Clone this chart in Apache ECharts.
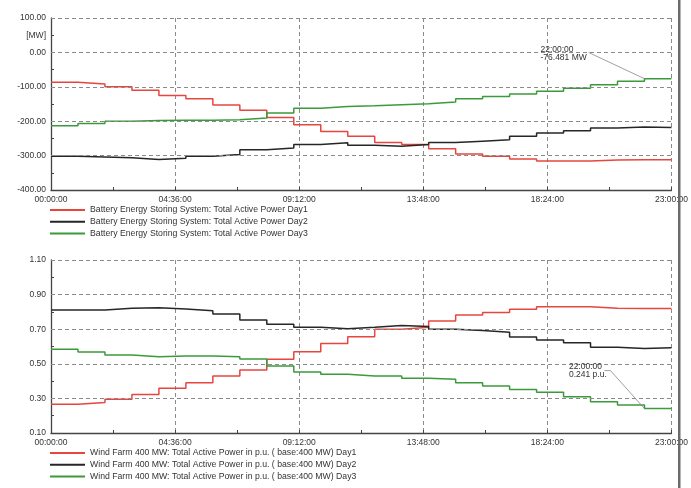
<!DOCTYPE html>
<html><head><meta charset="utf-8">
<script src="https://cdn.jsdelivr.net/npm/echarts@6/dist/echarts.min.js"></script>
<style>html,body{margin:0;padding:0;background:#fff}#c{width:691px;height:488px}</style>
</head><body><div id="c"></div>
<script>
// hours of the day (step values hold from hour h to h+1)
const hours = [0,1,2,3,4,5,6,7,8,9,10,11,12,13,14,15,16,17,18,19,20,21,22,23];

// Battery Energy Storing System: Total Active Power [MW]
const bessDay1 = [-87,-92,-100,-110,-125,-135,-153,-168,-189,-210,-230,-244,-262,-268,-280,-295,-302,-310,-316,-316,-313,-312,-312,-312];
const bessDay2 = [-302,-304,-306,-311,-308,-302,-297,-283,-278,-268,-263,-270,-273,-268,-262,-258,-254,-244,-234,-228,-220,-217,-218,-218];
const bessDay3 = [-213,-207,-200,-198,-197,-197,-196,-191,-176,-162,-157,-155,-152,-149,-144,-135,-128,-121,-113,-104,-94,-84,-76.481,-76.481];

// Wind Farm 400 MW: Total Active Power in p.u.
const windDay1 = [0.266,0.277,0.295,0.323,0.358,0.391,0.430,0.464,0.526,0.570,0.618,0.657,0.700,0.711,0.747,0.782,0.797,0.815,0.830,0.830,0.821,0.820,0.820,0.820];
const windDay2 = [0.811,0.811,0.821,0.824,0.817,0.807,0.788,0.753,0.728,0.711,0.703,0.711,0.722,0.715,0.700,0.692,0.682,0.655,0.638,0.622,0.595,0.589,0.593,0.593];
const windDay3 = [0.584,0.568,0.551,0.541,0.545,0.545,0.541,0.528,0.487,0.453,0.439,0.429,0.429,0.416,0.410,0.391,0.372,0.352,0.335,0.310,0.281,0.262,0.241,0.241];

const topNames = ['Battery Energy Storing System: Total Active Power Day1','Battery Energy Storing System: Total Active Power Day2','Battery Energy Storing System: Total Active Power Day3'];
const botNames = ['Wind Farm 400 MW: Total Active Power in p.u. ( base:400 MW) Day1','Wind Farm 400 MW: Total Active Power in p.u. ( base:400 MW) Day2','Wind Farm 400 MW: Total Active Power in p.u. ( base:400 MW) Day3'];
const topGridValues = [-300,-200,-100,0,100];
const botGridValues = [0.3,0.5,0.7,0.9,1.1];
const annTop = {hour: 22, value: -76.481, text: '22:00:00\n-76.481 MW'};
const annBot = {hour: 22, value: 0.241, text: '22:00:00\n0.241 p.u.'};

const colors = ['#e8453f','#262626','#3b9a3b'];
const FONT = 'Liberation Sans, Arial, sans-serif';

function fmtTime(v){
  const tm = Math.round(v*60);
  const h = Math.floor(tm/60), m = tm%60;
  return String(h).padStart(2,'0')+':'+String(m).padStart(2,'0')+':00';
}
const pair = arr => hours.map((h,i)=>[h, arr[i]]);

const dashed = {color:'#8a8a8a', width:1, type:[4,3]};
function xAxis(gi){
  return {
    type:'value', gridIndex:gi, min:0, max:23, interval:4.6,
    axisLine:{show:true, onZero:false, lineStyle:{color:'#444', width:1.3}},
    axisTick:{show:true, inside:true, length:3, lineStyle:{color:'#444'}},
    minorTick:{show:true, splitNumber:2, length:3, lineStyle:{color:'#444'}},
    splitLine:{show:true, lineStyle:dashed},
    axisLabel:{formatter:fmtTime, fontSize:8.5, color:'#333', margin:5, fontFamily:FONT, showMaxLabel:true, showMinLabel:true}
  };
}
function seriesFor(names, arrays, xi, gridVals){
  return names.map((n,i)=>({
    name:n, type:'line', xAxisIndex:xi, yAxisIndex:xi, step:'end', data:pair(arrays[i]),
    showSymbol:false, symbol:'none', color:colors[i], lineStyle:{width:1.5, color:colors[i]},
    animation:false,
    markLine: i===0 ? {silent:true, symbol:['none','none'], label:{show:false}, lineStyle:dashed,
      data: gridVals.map(v=>({yAxis:v}))} : undefined
  }));
}
function legendFor(names, top){
  return {data:names, orient:'vertical', left:50, top:top, padding:0, height:60,
    itemWidth:35, itemHeight:2, itemGap:1.8, icon:'rect', selectedMode:false,
    textStyle:{fontSize:8.7, color:'#333', lineHeight:10, fontFamily:FONT}};
}

const chart = echarts.init(document.getElementById('c'), null, {renderer:'canvas'});
chart.setOption({
  backgroundColor:'#fff',
  animation:false,
  grid:[
    {left:51, right:18, top:18, height:172},
    {left:51, right:18, top:260, height:173}
  ],
  xAxis:[xAxis(0), xAxis(1)],
  yAxis:[
    {type:'value', gridIndex:0, min:-400, max:100, interval:50,
     axisLine:{show:true, lineStyle:{color:'#444', width:1.3}},
     axisTick:{show:true, inside:true, length:3, lineStyle:{color:'#444'}},
     splitLine:{show:false},
     axisLabel:{fontSize:8.5, color:'#333', margin:5, fontFamily:FONT,
       formatter:v=>{ if(Math.abs(v-50)<1e-6) return '[MW]'; return (Math.round(v)%100===0)? v.toFixed(2):''; }}},
    {type:'value', gridIndex:1, min:0.1, max:1.1, interval:0.1,
     axisLine:{show:true, lineStyle:{color:'#444', width:1.3}},
     axisTick:{show:true, inside:true, length:3, lineStyle:{color:'#444'}},
     splitLine:{show:false},
     axisLabel:{fontSize:8.5, color:'#333', margin:5, fontFamily:FONT,
       formatter:v=>(Math.round(v*10)%2===1)? v.toFixed(2):''}}
  ],
  legend:[legendFor(topNames, 205), legendFor(botNames, 448)],
  series:[
    ...seriesFor(topNames,[bessDay1,bessDay2,bessDay3],0,topGridValues),
    ...seriesFor(botNames,[windDay1,windDay2,windDay3],1,botGridValues)
  ]
});

const p1 = chart.convertToPixel({gridIndex:0}, [annTop.hour, annTop.value]);
const p2 = chart.convertToPixel({gridIndex:1}, [annBot.hour, annBot.value]);
const annStyle = {fill:'#333', fontSize:8.5, lineHeight:8, fontFamily:FONT};
chart.setOption({graphic:[
  {type:'text', left:p1[0]-104, top:p1[1]-34, style:Object.assign({text:annTop.text}, annStyle), z:100},
  {type:'polyline', shape:{points:[[p1[0]-56,p1[1]-26.3],[p1[0],p1[1]]]}, style:{stroke:'#888', lineWidth:0.8, fill:null}, z:100},
  {type:'text', left:p2[0]-75.5, top:p2[1]-46, style:Object.assign({text:annBot.text}, annStyle), z:100},
  {type:'polyline', shape:{points:[[p2[0]-40,p2[1]-38],[p2[0]-34,p2[1]-38],[p2[0],p2[1]]]}, style:{stroke:'#888', lineWidth:0.8, fill:null}, z:100},
  {type:'rect', left:678, top:0, shape:{width:2.5, height:488}, style:{fill:'#6b6b6b'}, z:100}
]});
</script>
</body></html>
